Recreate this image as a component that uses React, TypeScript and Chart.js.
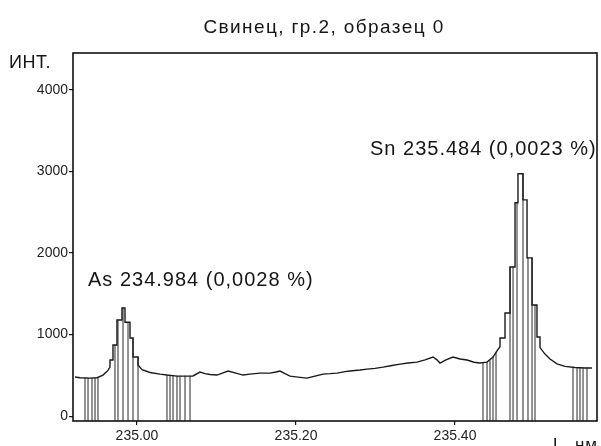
import React, { useEffect, useRef } from "react";
import { Chart, registerables } from "chart.js";

Chart.register(...registerables);

const TITLE = "Свинец, гр.2, образец 0";
const Y_LABEL = "ИНТ.";
const X_LABEL = "L, нм";
const AS_LABEL = "As 234.984 (0,0028 %)";
const SN_LABEL = "Sn 235.484 (0,0023 %)";

const X_MIN = 234.9195;
const X_MAX = 235.5786;
const Y_MIN = -60;
const Y_MAX = 4450;
const X_TICKS = [235.0, 235.2, 235.4];
const Y_TICKS = [0, 1000, 2000, 3000, 4000];

// spectrum (wavelength, nm) and intensity
const spectrumNm = [
  234.922, 234.9283, 234.9409, 234.9497, 234.9572, 234.9635, 234.966, 234.966,
  234.9698, 234.9698, 234.9748, 234.9748, 234.9811, 234.9811, 234.9849, 234.9849,
  234.9912, 234.9912, 234.995, 234.995, 235.0013, 235.0013, 235.0063, 235.0164,
  235.0289, 235.0377, 235.0503, 235.0604, 235.0704, 235.0792, 235.0855, 235.0918,
  235.1006, 235.1082, 235.1145, 235.1233, 235.1333, 235.1421, 235.1547, 235.1673,
  235.1748, 235.1799, 235.1862, 235.1925, 235.2025, 235.2138, 235.2239, 235.234,
  235.2428, 235.2516, 235.2616, 235.2679, 235.2805, 235.2893, 235.2994, 235.3094,
  235.3208, 235.3308, 235.3409, 235.3522, 235.3623, 235.3723, 235.3774, 235.3811,
  235.3887, 235.3975, 235.4063, 235.4151, 235.4239, 235.4314, 235.4403, 235.4478,
  235.4528, 235.4566, 235.4566, 235.4629, 235.4629, 235.4692, 235.4692, 235.4755,
  235.4755, 235.4792, 235.4792, 235.4855, 235.4855, 235.4906, 235.4906, 235.4969,
  235.4969, 235.5031, 235.5031, 235.5069, 235.5069, 235.5132, 235.5195, 235.5283,
  235.5384, 235.5509, 235.5635, 235.5723,
];
const spectrumInt = [
  480, 470, 466, 470, 503, 560, 600, 687,
  687, 871, 871, 1178, 1178, 1325, 1325, 1150,
  1150, 957, 957, 724, 724, 626, 570, 535,
  515, 503, 490, 490, 492, 540, 520, 510,
  503, 530, 552, 530, 503, 515, 527, 527,
  540, 552, 520, 490, 478, 466, 490, 515,
  520, 527, 545, 552, 565, 576, 585, 600,
  620, 637, 650, 662, 690, 724, 690, 650,
  690, 724, 700, 687, 660, 650, 662, 724,
  800, 850, 957, 957, 1264, 1264, 1828, 1828,
  2614, 2614, 2970, 2970, 2650, 2650, 1939, 1939,
  1362, 1362, 969, 969, 840, 760, 700, 640,
  610, 595, 590, 590,
];

// vertical integration lines (hatching)
const hatchNm = [
  234.9346, 234.9384, 234.9434, 234.9472, 234.9509,
  234.9723, 234.9761, 234.9824, 234.9887, 234.995, 235.0013,
  235.0377, 235.0415, 235.0453, 235.0503, 235.0541, 235.0604, 235.0667,
  235.4352, 235.4403, 235.444, 235.4478, 235.4516,
  235.4692, 235.473, 235.478, 235.4855, 235.4918, 235.4969, 235.5006,
  235.5484, 235.5535, 235.5572, 235.561, 235.566,
];
const hatchInt = [
  468, 467, 466, 467, 472,
  871, 1178, 1325, 1150, 957, 724,
  503, 498, 494, 490, 490, 490, 491,
  655, 662, 680, 724, 780,
  1828, 1828, 2614, 2970, 1939, 1939, 1362,
  598, 595, 593, 592, 591,
];

const FONT = '"Liberation Sans", Arial, Helvetica, sans-serif';

const framePlugin = {
  id: "frame",
  afterDraw(chart: any) {
    const { ctx, chartArea } = chart;
    ctx.save();
    ctx.strokeStyle = "#111";
    ctx.lineWidth = 1.6;
    ctx.strokeRect(chartArea.left, chartArea.top, chartArea.right - chartArea.left, chartArea.bottom - chartArea.top);
    ctx.restore();
  },
};

const textPlugin = {
  id: "texts",
  afterDraw(chart: any) {
    const { ctx } = chart;
    ctx.save();
    ctx.fillStyle = "#151515";
    ctx.textBaseline = "alphabetic";
    (ctx as any).letterSpacing = "1.4px";
    ctx.font = `19px ${FONT}`;
    ctx.textAlign = "center";
    ctx.fillText(TITLE, 324, 33);
    ctx.textAlign = "left";
    (ctx as any).letterSpacing = "0.5px";
    ctx.font = `18px ${FONT}`;
    ctx.fillText(Y_LABEL, 9, 68);
    (ctx as any).letterSpacing = "1px";
    ctx.font = `20px ${FONT}`;
    ctx.fillText(AS_LABEL, 88, 286);
    ctx.fillText(SN_LABEL, 370, 155);
    (ctx as any).letterSpacing = "1px";
    ctx.font = `17px ${FONT}`;
    ctx.fillText(X_LABEL, 553, 450);
    ctx.restore();
  },
};

export default function App() {
  const ref = useRef<HTMLCanvasElement | null>(null);

  useEffect(() => {
    if (!ref.current) return;
    const chart = new Chart(ref.current, {
      type: "line",
      data: {
        datasets: [
          {
            type: "line",
            data: spectrumNm.map((x, i) => ({ x, y: spectrumInt[i] })),
            borderColor: "#1a1a1a",
            borderWidth: 1.4,
            pointRadius: 0,
            tension: 0,
            fill: false,
            order: 0,
          } as any,
          {
            type: "bar",
            data: hatchNm.map((x, i) => ({ x, y: hatchInt[i] })),
            backgroundColor: "rgba(70,70,70,0.7)",
            borderWidth: 0,
            barThickness: 1,
            base: Y_MIN,
            order: 1,
          } as any,
        ],
      },
      options: {
        animation: false,
        responsive: false,
        events: [],
        layout: { padding: { top: 53, right: 4, left: 0, bottom: 0 } },
        plugins: {
          legend: { display: false },
          title: { display: false },
          tooltip: { enabled: false },
        },
        scales: {
          x: {
            type: "linear",
            min: X_MIN,
            max: X_MAX,
            offset: false,
            border: { display: false },
            grid: { display: true, offset: false, drawOnChartArea: false, drawTicks: true, tickLength: 4, color: "#111", lineWidth: 1.2 },
            afterBuildTicks: (s: any) => {
              s.ticks = X_TICKS.map((v) => ({ value: v }));
            },
            ticks: {
              callback: (v: any) => Number(v).toFixed(2),
              color: "#222",
              font: { family: FONT, size: 14 },
              padding: 3,
              maxRotation: 0,
              autoSkip: false,
            },
            afterFit: (s: any) => {
              s.height = 25;
            },
          },
          y: {
            type: "linear",
            min: Y_MIN,
            max: Y_MAX,
            offset: false,
            border: { display: false },
            grid: { display: true, offset: false, drawOnChartArea: false, drawTicks: true, tickLength: 4, color: "#111", lineWidth: 1.2 },
            afterBuildTicks: (s: any) => {
              s.ticks = Y_TICKS.map((v) => ({ value: v }));
            },
            ticks: {
              callback: (v: any) => String(v),
              color: "#222",
              font: { family: FONT, size: 14 },
              padding: 1,
              autoSkip: false,
            },
            afterFit: (s: any) => {
              s.width = 73;
            },
          },
        },
      } as any,
      plugins: [framePlugin, textPlugin],
    });
    return () => chart.destroy();
  }, []);

  return (
    <div style={{ position: "absolute", left: 0, top: 0, width: 601, height: 446, background: "#fff", overflow: "hidden" }}>
      <canvas ref={ref} width={601} height={446} style={{ display: "block" }} />
    </div>
  );
}
